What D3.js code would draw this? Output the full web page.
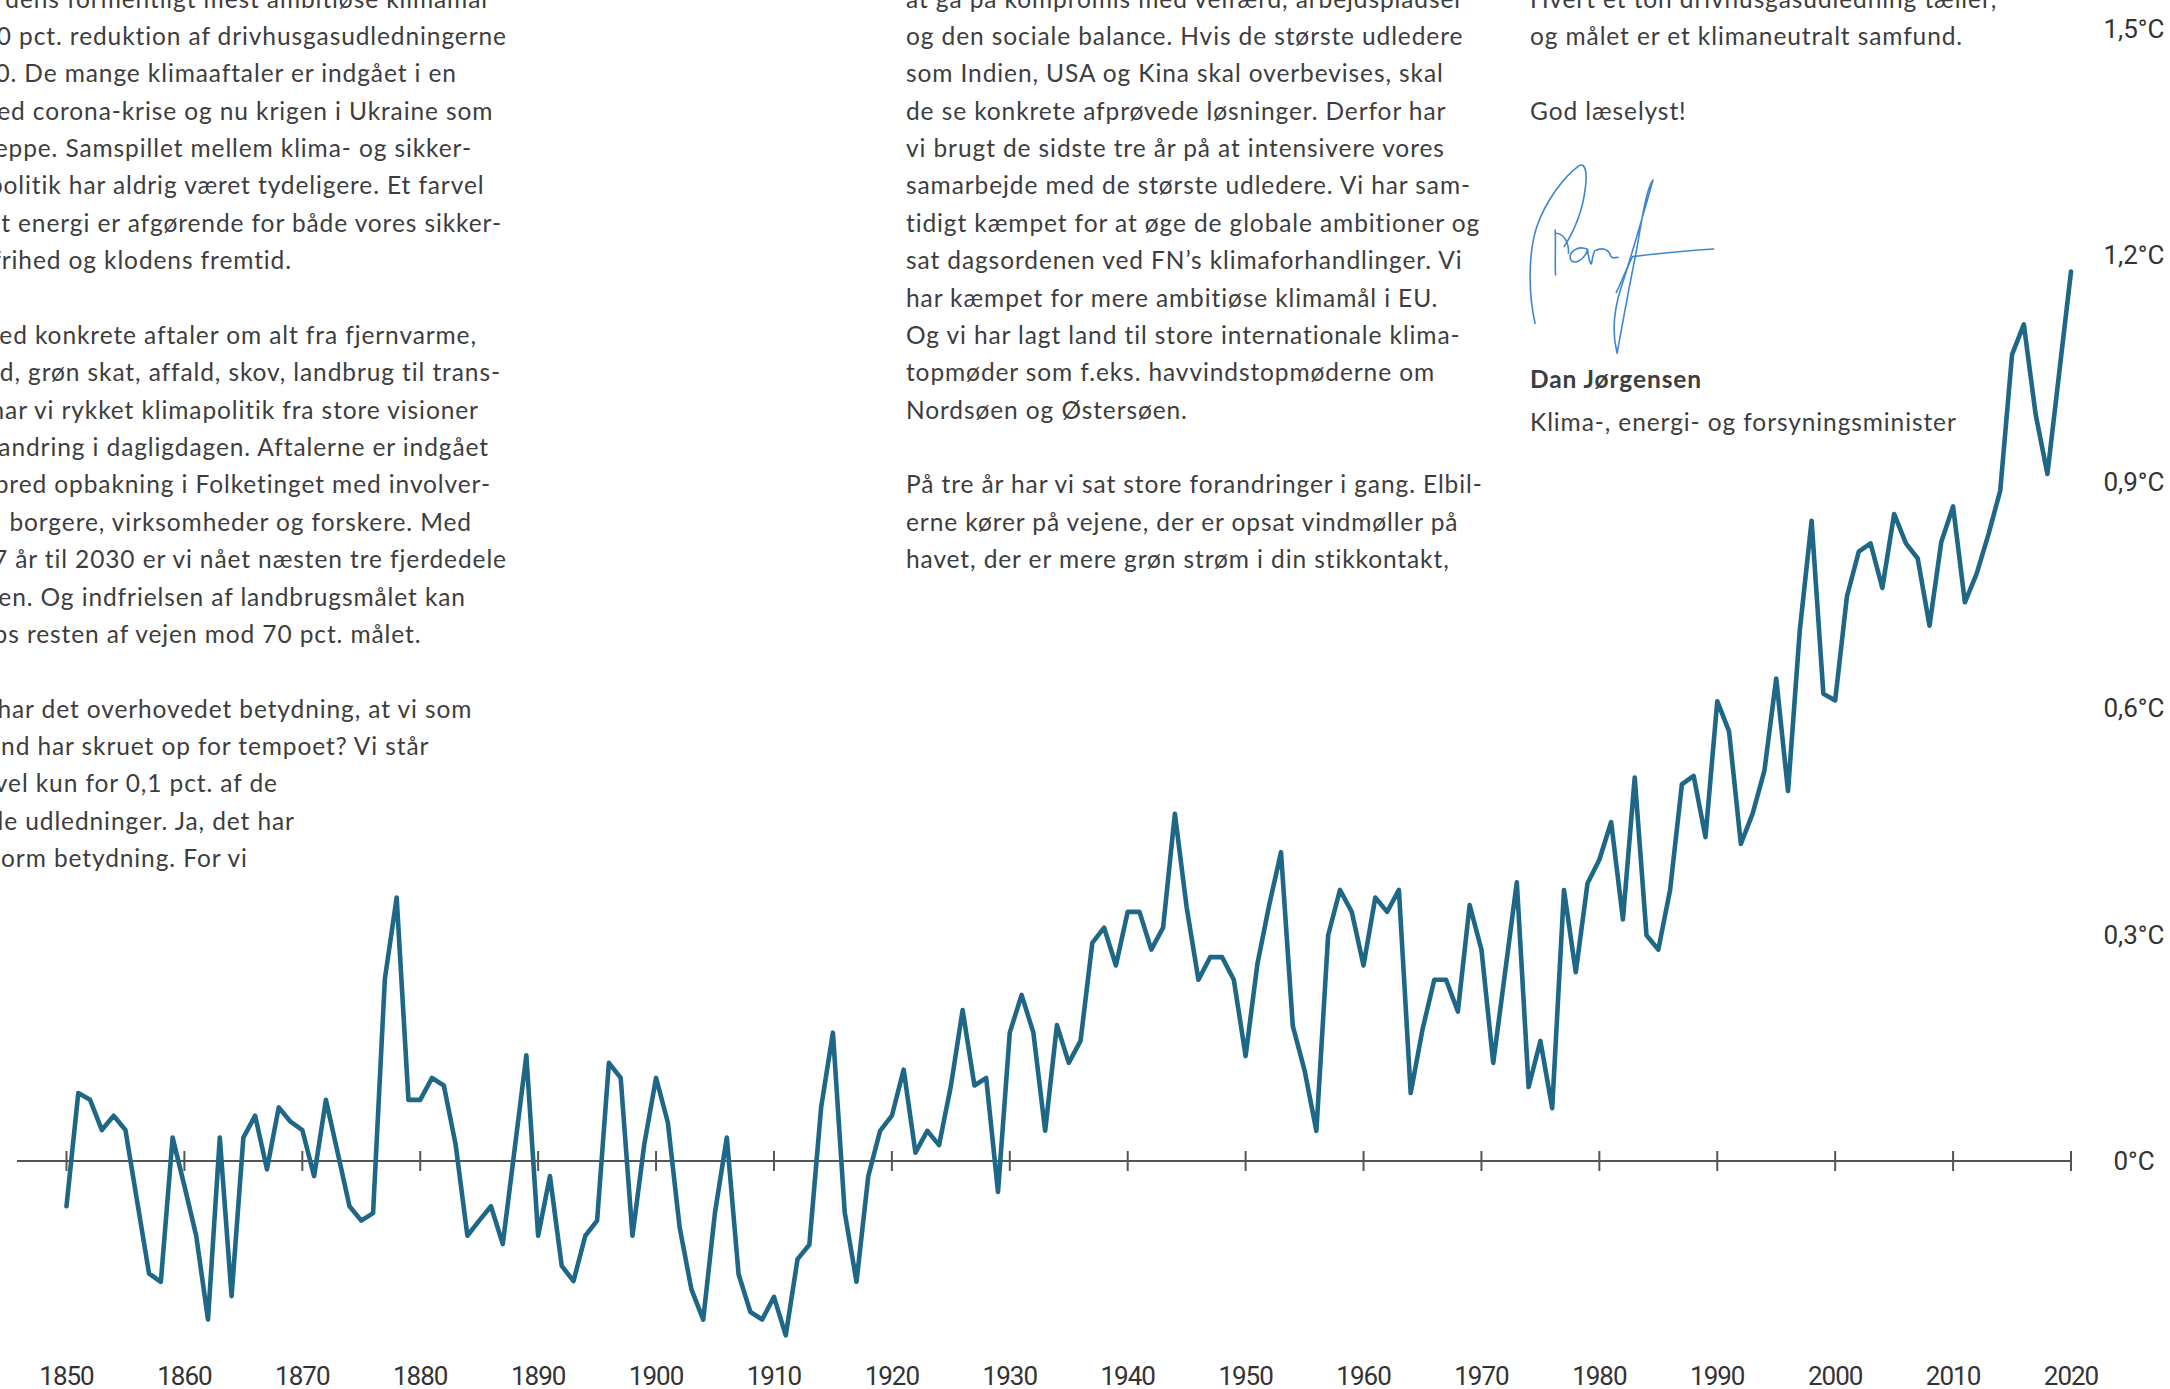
<!DOCTYPE html>
<html><head><meta charset="utf-8">
<script src="https://cdn.jsdelivr.net/npm/d3@7"></script>
<style>body{margin:0;background:#fff;overflow:hidden} svg{display:block}</style>
</head><body><svg id="c" width="2170" height="1389"></svg>
<script>
// ---- data ----
const years = d3.range(1850, 2021);
const anomalies = [
-0.060,0.090,0.081,0.041,0.060,0.041,-0.054,-0.149,-0.160,0.031,
-0.033,-0.099,-0.210,0.031,-0.179,0.031,0.060,-0.011,0.071,0.052,
0.041,-0.020,0.081,0.011,-0.060,-0.079,-0.069,0.241,0.349,0.081,
0.081,0.110,0.100,0.022,-0.099,-0.079,-0.060,-0.110,0.015,0.140,
-0.099,-0.020,-0.139,-0.159,-0.099,-0.079,0.130,0.110,-0.099,0.022,
0.110,0.051,-0.088,-0.170,-0.210,-0.068,0.031,-0.150,-0.200,-0.210,
-0.180,-0.231,-0.130,-0.111,0.071,0.170,-0.068,-0.160,-0.020,0.040,
0.060,0.121,0.011,0.040,0.021,0.099,0.200,0.100,0.110,-0.041,
0.170,0.220,0.170,0.040,0.180,0.130,0.159,0.289,0.309,0.259,
0.330,0.330,0.280,0.309,0.460,0.336,0.240,0.270,0.270,0.240,
0.139,0.261,0.339,0.409,0.179,0.120,0.040,0.299,0.359,0.330,
0.259,0.349,0.330,0.359,0.090,0.174,0.240,0.240,0.198,0.339,
0.280,0.130,0.249,0.369,0.098,0.159,0.070,0.359,0.250,0.368,
0.399,0.449,0.320,0.508,0.299,0.280,0.359,0.499,0.510,0.429,
0.609,0.569,0.420,0.460,0.517,0.639,0.490,0.703,0.848,0.619,
0.610,0.748,0.807,0.818,0.759,0.857,0.818,0.798,0.709,0.820,
0.867,0.740,0.778,0.830,0.888,1.068,1.108,0.989,0.910,1.044,
1.178];
const xTickYears = d3.range(1850, 2021, 10);
const yTickValues = [0, 0.3, 0.6, 0.9, 1.2, 1.5];
const yTickLabels = ["0°C","0,3°C","0,6°C","0,9°C","1,2°C","1,5°C"];

// ---- text ----
const leftColumn = [
"dens formentligt mest ambitiøse klimamål",
"0 pct. reduktion af drivhusgasudledningerne",
"0. De mange klimaaftaler er indgået i en",
"ed corona-krise og nu krigen i Ukraine som",
"eppe. Samspillet mellem klima- og sikker-",
"politik har aldrig været tydeligere. Et farvel",
"t energi er afgørende for både vores sikker-",
"frihed og klodens fremtid.",
"",
"ed konkrete aftaler om alt fra fjernvarme,",
"nd, grøn skat, affald, skov, landbrug til trans-",
"har vi rykket klimapolitik fra store visioner",
"andring i dagligdagen. Aftalerne er indgået",
"bred opbakning i Folketinget med involver-",
" borgere, virksomheder og forskere. Med",
"7 år til 2030 er vi nået næsten tre fjerdedele",
"en. Og indfrielsen af landbrugsmålet kan",
"ps resten af vejen mod 70 pct. målet.",
"",
"har det overhovedet betydning, at vi som",
"nd har skruet op for tempoet? Vi står",
"vel kun for 0,1 pct. af de",
"le udledninger. Ja, det har",
"orm betydning. For vi"];
const leftRightEdges = [487,506,456,492.5,471,483.5,501,291,0,476,500,478,488,490,471,506,465,420.5,0,471.5,428.5,277,294,247];

const middleColumn = [
"at gå på kompromis med velfærd, arbejdspladser",
"og den sociale balance. Hvis de største udledere",
"som Indien, USA og Kina skal overbevises, skal",
"de se konkrete afprøvede løsninger. Derfor har",
"vi brugt de sidste tre år på at intensivere vores",
"samarbejde med de største udledere. Vi har sam-",
"tidigt kæmpet for at øge de globale ambitioner og",
"sat dagsordenen ved FN’s klimaforhandlinger. Vi",
"har kæmpet for mere ambitiøse klimamål i EU.",
"Og vi har lagt land til store internationale klima-",
"topmøder som f.eks. havvindstopmøderne om",
"Nordsøen og Østersøen.",
"",
"På tre år har vi sat store forandringer i gang. Elbil-",
"erne kører på vejene, der er opsat vindmøller på",
"havet, der er mere grøn strøm i din stikkontakt,"];

const rightColumn = [
"Hvert et ton drivhusgasudledning tæller,",
"og målet er et klimaneutralt samfund.",
"",
"God læselyst!"];
const signerName = "Dan Jørgensen";
const signerTitle = "Klima-, energi- og forsyningsminister";

// ---- drawing ----
const svg = d3.select("#c");
const x = d3.scaleLinear().domain([1850, 2020]).range([66.5, 2071]);
const y = d3.scaleLinear().domain([0, 1.5]).range([1161, 28.5]);

const textColor = "#3d3d3d";
const bodyFont = "Lato, 'Open Sans', sans-serif";
const bodySize = 24.5, bodySpacing = 0.9;
const lineH = 37.37, firstBase = 7.6;

function styleBody(sel) {
  return sel.attr("font-family", bodyFont).attr("font-size", bodySize)
    .attr("letter-spacing", bodySpacing).attr("fill", textColor);
}
function column(lines, xPos, anchor, edges) {
  const g = styleBody(svg.append("g"));
  lines.forEach((t, i) => {
    if (!t) return;
    g.append("text")
      .attr("x", edges ? edges[i] + bodySpacing : xPos)
      .attr("y", firstBase + i * lineH)
      .attr("text-anchor", anchor)
      .attr("xml:space", "preserve")
      .text(t);
  });
}
column(leftColumn, 0, "end", leftRightEdges);
column(middleColumn, 906, "start");
column(rightColumn, 1530, "start");

styleBody(svg.append("text")).attr("x", 1530).attr("y", 388)
  .attr("font-weight", 700).text(signerName);
styleBody(svg.append("text")).attr("x", 1530).attr("y", 431)
  .text(signerTitle);

// signature (hand-drawn strokes)
const sig = svg.append("g")
  .attr("transform", "translate(1500,0) scale(0.4274,0.3333)")
  .attr("fill", "none").attr("stroke", "#3f86d0").attr("stroke-linecap", "round")
  .attr("stroke-linejoin", "round");
[
 "M82,970 C66,880 66,760 86,680 C108,600 150,530 185,497 C200,486 204,520 200,560 C195,620 180,680 150,740",
 "M129,690 C131,730 128,790 130,825",
 "M130,700 C150,700 162,730 160,760",
 "M205,748 C182,735 160,755 165,778 C172,796 198,782 205,748 C206,765 208,780 212,790",
 "M214,792 C216,775 218,760 222,752 C238,742 254,746 258,766 C262,776 268,774 276,772",
 "M358,540 C340,570 330,680 318,760 C304,850 288,960 274,1060 C262,1000 266,930 284,860 C302,790 336,640 358,540",
 "M272,878 C286,840 298,800 310,770 C360,762 430,752 500,747"
].forEach(d => sig.append("path").attr("d", d).attr("stroke-width", 1.6)
  .attr("vector-effect", "non-scaling-stroke"));

// zero axis line
svg.append("line")
  .attr("x1", 17).attr("x2", x(2020))
  .attr("y1", y(0)).attr("y2", y(0))
  .attr("stroke", "#555").attr("stroke-width", 2);

// ticks
svg.append("g").selectAll("line").data(xTickYears).join("line")
  .attr("x1", d => x(d)).attr("x2", d => x(d))
  .attr("y1", y(0) - 10).attr("y2", y(0) + 10)
  .attr("stroke", "#555").attr("stroke-width", 2);

// year labels
svg.append("g").selectAll("text").data(xTickYears).join("text")
  .attr("x", d => x(d)).attr("y", 1385)
  .attr("text-anchor", "middle")
  .attr("font-family", "Roboto, sans-serif").attr("font-size", 26)
  .attr("letter-spacing", -1)
  .attr("fill", "#333").text(d => d);

// y labels
svg.append("g").selectAll("text").data(yTickValues).join("text")
  .attr("x", 2134).attr("y", d => y(d) + 9)
  .attr("text-anchor", "middle")
  .attr("font-family", "Roboto, sans-serif").attr("font-size", 26)
  .attr("fill", "#333").text((d, i) => yTickLabels[i]);

// line
const line = d3.line().x((d, i) => x(years[i])).y(d => y(d));
svg.append("path").datum(anomalies)
  .attr("d", line)
  .attr("fill", "none").attr("stroke", "#1f6787")
  .attr("stroke-width", 4.6).attr("stroke-linejoin", "round").attr("stroke-linecap", "round");
</script>
</body></html>
